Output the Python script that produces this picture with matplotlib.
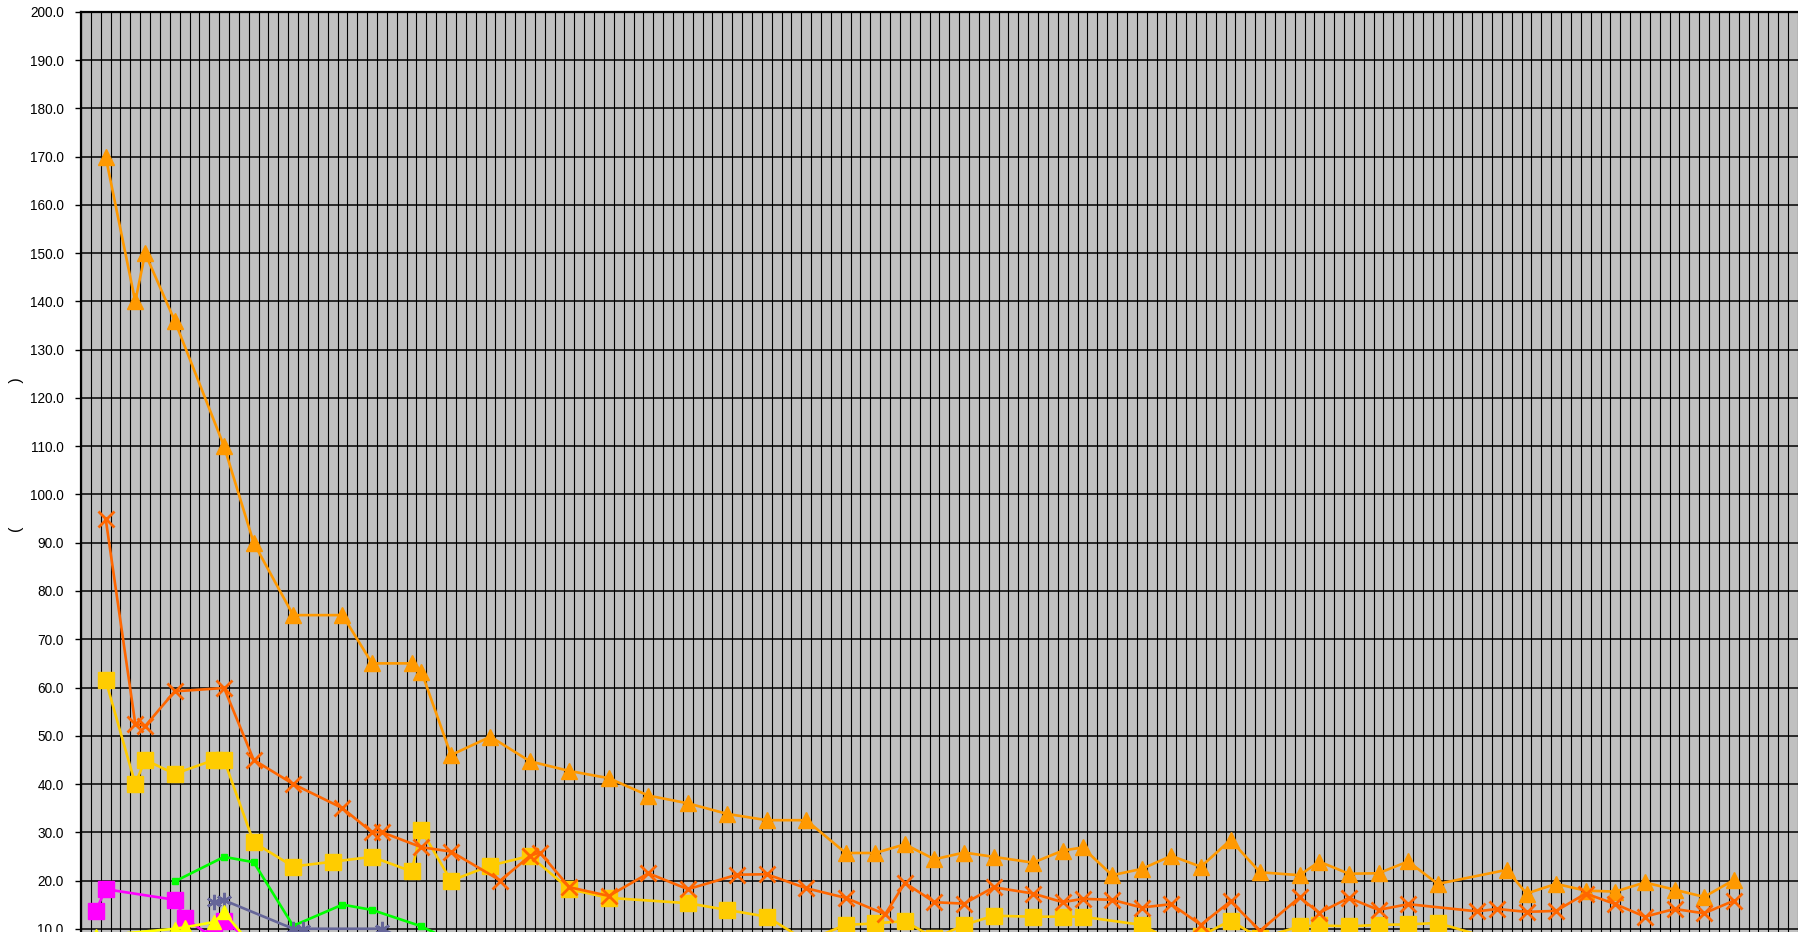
import matplotlib
matplotlib.use("Agg")
import matplotlib.pyplot as plt
from matplotlib.ticker import FormatStrFormatter

plt.rcParams['font.family'] = ['Liberation Sans', 'DejaVu Sans']

# ---- data (category index, value) ----
tri_x = [2, 5, 6, 9, 14, 17, 21, 26, 29, 33, 34, 37, 41, 45, 49, 53, 57, 61, 65, 69,
         73, 77, 80, 83, 86, 89, 92, 96, 99, 101, 104, 107, 110, 113, 116, 119, 123, 125, 128, 131,
         134, 137, 144, 146, 149, 152, 155, 158, 161, 164, 167]
tri_v = [170, 140, 150, 136, 110, 90, 75, 75, 65, 65, 63.3, 46, 49.8, 44.7, 42.7, 41.2, 37.6, 36.0, 33.8, 32.5,
         32.5, 25.7, 25.7, 27.5, 24.4, 25.8, 24.9, 23.7, 26.2, 26.85, 21.1, 22.4, 25.1, 22.85, 28.4, 21.7, 21.1, 23.9, 21.4, 21.5,
         23.95, 19.3, 22.2, 17.3, 19.3, 17.9, 17.7, 19.6, 18.1, 16.6, 20.1]

cross_x = [2, 5, 6, 9, 14, 17, 21, 26, 29, 30, 34, 37, 42, 45, 46, 49, 53, 57, 61, 66,
           69, 73, 77, 81, 83, 86, 89, 92, 96, 99, 101, 104, 107, 110, 113, 116, 119, 123, 125, 128,
           131, 134, 141, 143, 146, 149, 152, 155, 158, 161, 164, 167]
cross_v = [95, 52.5, 52, 59.2, 59.9, 45, 40, 35, 30, 30, 26.9, 26, 20, 25.1, 25.8, 18.6, 16.8, 21.5, 18.2, 21.2,
           21.3, 18.4, 16.4, 13, 19.5, 15.5, 15.2, 18.6, 17.3, 15.5, 16.2, 16, 14.4, 15.1, 10.8, 15.7, 9.6, 16.5, 13.3, 16.4,
           13.9, 15.1, 13.6, 14.1, 13.5, 13.7, 17.3, 15.1, 12.5, 14.1, 13.2, 15.8]

gold_x = [2, 5, 6, 9, 13, 14, 17, 21, 25, 29, 33, 34, 37, 41, 45, 49, 53, 61, 65, 69,
          73, 77, 80, 83, 86, 89, 92, 96, 99, 101, 107, 110, 113, 116, 119, 123, 125, 128, 131, 134,
          137, 144]
gold_v = [61.5, 40, 45, 42.1, 45, 45, 27.9, 22.9, 23.9, 24.9, 21.9, 30.45, 19.95, 23.1, 25.1, 18.2, 16.4, 15.3, 13.9, 12.5,
          7.5, 10.8, 11.1, 11.6, 8, 10.8, 12.7, 12.5, 12.5, 12.5, 10.8, 7.5, 8.5, 11.7, 8, 10.5, 10.7, 10.5, 10.8, 10.9,
          11.2, 7]

mag_x = [1, 2, 9, 10, 13, 14, 17]
mag_v = [13.7, 18.2, 16, 12.2, 8, 11.7, 7]

green_x = [9, 14, 17, 21, 26, 29, 34, 37]
green_v = [19.8, 24.9, 23.8, 10.6, 15.0, 13.9, 10.5, 7.5]

slate_x = [13, 14, 21, 22, 30, 33]
slate_v = [15.5, 15.9, 10, 10, 10, 7]

yel_x = [1, 9, 10, 13, 14, 17]
yel_v = [8.5, 10, 10.3, 11.4, 13.4, 6]

n_categories = 175
y_ticks = list(range(10, 201, 10))
y_label = "(" + " " * 32 + ")"

# ---- figure ----
W, H = 1798, 932
fig = plt.figure(figsize=(W / 100, H / 100), dpi=100)
px_per_cat = 9.867
px_per_unit = 4.825
left_px, top_px = 81, 12
ax_w = n_categories * px_per_cat
ax_h = 200 * px_per_unit
ax = fig.add_axes([left_px / W, (H - top_px - ax_h) / H, ax_w / W, ax_h / H])
ax.set_facecolor('#C0C0C0')
ax.set_xlim(0, n_categories)
ax.set_ylim(0, 200)

ax.set_xticks(range(0, n_categories + 1))
ax.tick_params(axis='x', length=0, labelbottom=False)
ax.set_yticks(y_ticks)
ax.yaxis.set_major_formatter(FormatStrFormatter('%.1f'))
ax.tick_params(axis='y', length=4, width=1, direction='out', pad=8.5, labelsize=9.8, colors='black')
ax.grid(axis='x', color='black', lw=0.8)
ax.grid(axis='y', color='black', lw=1.1)
ax.set_axisbelow(True)
for s in ['left', 'top']:
    ax.spines[s].set_color('black')
    ax.spines[s].set_linewidth(1.6)
ax.spines['right'].set_visible(False)
ax.spines['bottom'].set_visible(False)

def cx(xs):
    return [x + 0.5 for x in xs]

lw = 1.9
ax.plot(cx(mag_x), mag_v, color='#FF00FF', lw=lw, marker='s', ms=11, mec='#FF00FF', zorder=3)
ax.plot(cx(gold_x), gold_v, color='#FFCC00', lw=lw, marker='s', ms=11.5, mec='#FFCC00', zorder=4)
ax.plot(cx(tri_x), tri_v, color='#FF9900', lw=lw, marker='^', ms=11.5, mec='#FF9900', zorder=5)
ax.plot(cx(cross_x), cross_v, color='#FF6600', lw=lw, marker='x', ms=12, mew=2.0, mec='#FF6600', zorder=6)
ax.plot(cx(green_x), green_v, color='#00FF00', lw=lw, marker='s', ms=4.5, mec='#00FF00', zorder=7)
ax.plot(cx(slate_x), slate_v, color='#666699', lw=lw, marker=(6, 2, 0), ms=11, mew=1.8, mec='#666699', zorder=8)
ax.plot(cx(yel_x), yel_v, color='#FFFF00', lw=lw, marker='^', ms=10.5, mec='#FFFF00', zorder=9)

fig.text(17 / W, 1 - 455 / H, y_label, rotation=90, ha='center', va='center', fontsize=11.5)

fig.savefig('out.png', dpi=100)
